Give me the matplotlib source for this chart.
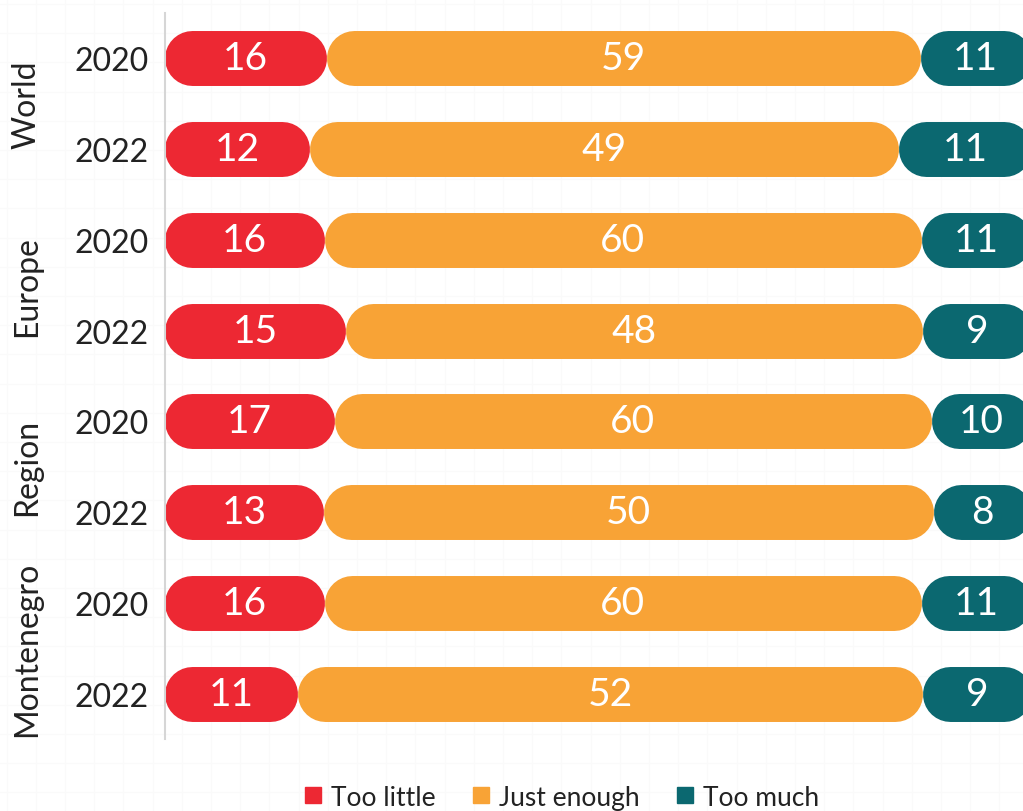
import numpy as np
import matplotlib.pyplot as plt
from matplotlib.lines import Line2D
from matplotlib.transforms import blended_transform_factory

plt.rcParams['font.family'] = ['Lato', 'DejaVu Sans']

groups = ['World', 'Europe', 'Region', 'Montenegro']
years = ['2020', '2022']
series = ['Too little', 'Just enough', 'Too much']
colors = ['#ED2833', '#F8A336', '#0B6870']

too_little = [16, 12, 16, 15, 17, 13, 16, 11]
just_enough = [59, 49, 60, 48, 60, 50, 60, 52]
too_much = [11, 11, 11, 9, 10, 8, 11, 9]

fig = plt.figure(figsize=(10.23, 8.12), dpi=100)

# faint background grid texture behind everything
bg = fig.add_axes([0, 0, 1, 1], zorder=-1)
bg.set_xlim(0, 1023)
bg.set_ylim(812, 0)
bg.set_xticks(np.arange(6.5, 1023, 29.2))
bg.set_yticks(np.arange(5, 812, 29.2))
bg.grid(True, color='#fafafa', lw=1)
bg.tick_params(length=0, labelbottom=False, labelleft=False)
for s in bg.spines.values():
    s.set_visible(False)

# axes runs a little past the right edge of the figure, like the original
ax = fig.add_axes([165 / 1023, 0.0882, 866 / 1023, 0.895])
ax.patch.set_alpha(0)
ax.set_xlim(0, 1)
ax.set_ylim(7.5, -0.5)

bar_h = 0.605
sx = ax.get_position().width * fig.get_figwidth() * fig.dpi        # px per x unit
sy = ax.get_position().height * fig.get_figheight() * fig.dpi / 8  # px per y unit
bar_px = bar_h * sy
rad = bar_px / 2 / sx  # cap radius in x data units
lw_pt = bar_px * 72 / fig.dpi

rows = list(zip(too_little, just_enough, too_much))
for i, vals in enumerate(rows):
    total = sum(vals)
    left = 0
    for v, c in zip(vals, colors):
        w = v / total
        # pill = thick line with round caps
        ax.plot([left + rad, left + w - rad], [i, i], color=c, lw=lw_pt,
                solid_capstyle='round')
        ax.text(left + w / 2, i, str(v), ha='center', va='center',
                color='white', fontsize=28)
        left += w

ax.set_yticks(range(len(rows)))
ax.set_yticklabels(years * len(groups), fontsize=23, color='#222222')
ax.tick_params(axis='y', length=0, pad=12)
ax.set_xticks([])
for s in ['top', 'right', 'bottom']:
    ax.spines[s].set_visible(False)
ax.spines['left'].set_color('#d6d6d6')
ax.spines['left'].set_linewidth(1.5)

tr = blended_transform_factory(fig.transFigure, ax.transData)
for k, g in enumerate(groups):
    ax.text(27 / 1023, 2 * k + 0.5, g, rotation=90, ha='center', va='center',
            fontsize=23, color='#222222', transform=tr)

handles = [Line2D([], [], marker='s', ls='', color=c, markersize=12) for c in colors]
fig.legend(handles, series, loc='center', bbox_to_anchor=(0.548, 0.017), ncol=3,
           frameon=False, fontsize=19, handlelength=0.8, handletextpad=0.3,
           columnspacing=1.3, labelcolor='#222222')

fig.savefig('out.png')
